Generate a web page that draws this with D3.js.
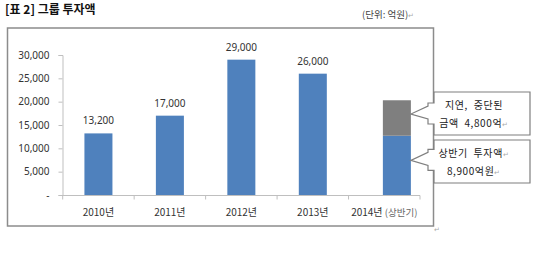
<!DOCTYPE html>
<html><head><meta charset="utf-8">
<script src="https://cdn.jsdelivr.net/npm/d3@7"></script>
<style>
html,body{margin:0;padding:0;background:#fff;}
svg{display:block;font-family:"Noto Sans CJK KR","Noto Sans",sans-serif;}
</style></head>
<body>
<svg id="chart" width="540" height="259"></svg>
<script>
const categories = ["2010년","2011년","2012년","2013년","2014년"];
const categorySuffix = ["","","",""," (상반기)"];
const investment = [13200, 17000, 29000, 26000, 12700];
const delayed = [0, 0, 0, 0, 7600];
const valueLabels = ["13,200","17,000","29,000","26,000",""];
const yTicks = [0, 5000, 10000, 15000, 20000, 25000, 30000];
const yTickLabels = ["-","5,000","10,000","15,000","20,000","25,000","30,000"];
const calloutLines = [["지연,  중단된","금액  4,800억"],["상반기  투자액","8,900억원"]];

const svg = d3.select("#chart");
const blue = "#4f81bd", gray = "#7f7f7f", txt = "#333";

// title and unit
svg.append("text").attr("x",5).attr("y",14).attr("font-size",12).attr("font-weight","bold")
  .attr("fill","#111").text("[표 2] 그룹 투자액");
const unit = svg.append("text").attr("x",362).attr("y",18).attr("font-size",9.5).attr("fill","#444");
unit.append("tspan").text("(단위:  억원)");
unit.append("tspan").attr("fill","#aaa").attr("font-size",7).text("↵");

// outer frame
svg.append("rect").attr("x",7.5).attr("y",28).attr("width",426).attr("height",198)
  .attr("fill","none").attr("stroke","#8c8c8c").attr("stroke-width",1.5);
svg.append("text").attr("x",434).attr("y",232).attr("font-size",7).attr("fill","#aaa").text("↵");

const x = d3.scaleBand().domain(categories).range([62.7,420]).paddingInner(0.608).paddingOuter(0.304);
const y = d3.scaleLinear().domain([0,30000]).range([195,55]);

// y axis
const yAxis = svg.append("g").attr("transform","translate(62.5,0)")
  .call(d3.axisLeft(y).tickValues(yTicks).tickSize(4).tickFormat((d,i)=>yTickLabels[i]));
yAxis.select(".domain").attr("stroke","#bfbfbf");
yAxis.selectAll(".tick line").attr("stroke","#bfbfbf");
yAxis.selectAll(".tick text").attr("font-size",10).attr("fill",txt).attr("x",-13)
  .attr("font-family","'Noto Sans','DejaVu Sans',sans-serif");

// x axis with tick marks at category boundaries
const xg = svg.append("g").attr("transform","translate(0,195.5)");
xg.append("line").attr("x1",x.range()[0]).attr("x2",x.range()[1]).attr("stroke","#bfbfbf");
const bounds = categories.map(c=>x(c)-x.step()*x.paddingInner()/2).concat([x.range()[1]]);
bounds[0] = x.range()[0];
xg.selectAll("line.tk").data(bounds).join("line").attr("class","tk")
  .attr("x1",d=>d).attr("x2",d=>d).attr("y1",0).attr("y2",4).attr("stroke","#bfbfbf");
const xl = xg.selectAll("text").data(categories).join("text")
  .attr("x",d=>x(d)+x.bandwidth()/2).attr("y",20).attr("text-anchor","middle")
  .attr("font-size",10).attr("fill",txt).attr("xml:space","preserve");
xl.append("tspan").text(d=>d);
xl.append("tspan").attr("fill","#666").attr("font-size",9.5).text((d,i)=>categorySuffix[i]);

// bars
const shift = (i)=> i===4 ? x.bandwidth()*0.45 : 0;
svg.selectAll("rect.bar").data(investment).join("rect").attr("class","bar")
  .attr("x",(d,i)=>x(categories[i])+shift(i)).attr("width",x.bandwidth())
  .attr("y",d=>y(d)).attr("height",d=>y(0)-y(d)).attr("fill",blue);
svg.selectAll("rect.delay").data(delayed).join("rect").attr("class","delay")
  .attr("x",(d,i)=>x(categories[i])+shift(i)).attr("width",x.bandwidth())
  .attr("y",(d,i)=>y(investment[i]+d)).attr("height",(d,i)=>y(investment[i])-y(investment[i]+d))
  .attr("fill",gray);

// value labels
svg.selectAll("text.val").data(valueLabels).join("text").attr("class","val")
  .attr("x",(d,i)=>x(categories[i])+x.bandwidth()/2).attr("y",(d,i)=>y(investment[i])-9)
  .attr("text-anchor","middle").attr("font-size",10).attr("fill",txt)
  .attr("font-family","'Noto Sans','DejaVu Sans',sans-serif").text(d=>d);

// callouts
const bx = x(categories[4])+shift(4)+x.bandwidth();
const tips = [ (y(investment[4]+delayed[4])+y(investment[4]))/2 - 4, (y(investment[4])+y(0))/2 - 5 ];
const boxes = [[92,135],[140,183]];
boxes.forEach((b,k)=>{
  const t = tips[k], L=434, R=530;
  const p = `M${L},${b[0]} H${R} V${b[1]} H${L} V${t+10} H${L-6} V${t+5} L${bx},${t} L${L-6},${t-8} V${t-11} H${L} Z`;
  svg.append("path").attr("d",p).attr("fill","#fff").attr("stroke","#7f7f7f").attr("stroke-width",1.2);
  calloutLines[k].forEach((ln,j)=>{
    const tx = svg.append("text").attr("x",474).attr("y",b[0]+17+j*18).attr("text-anchor","middle")
      .attr("font-size",10).attr("fill","#222").attr("letter-spacing",0.6).attr("xml:space","preserve");
    tx.append("tspan").text(ln);
    if(!(k===0 && j===0)) tx.append("tspan").attr("fill","#aaa").attr("font-size",7).text("↵");
  });
});
</script>
</body></html>
